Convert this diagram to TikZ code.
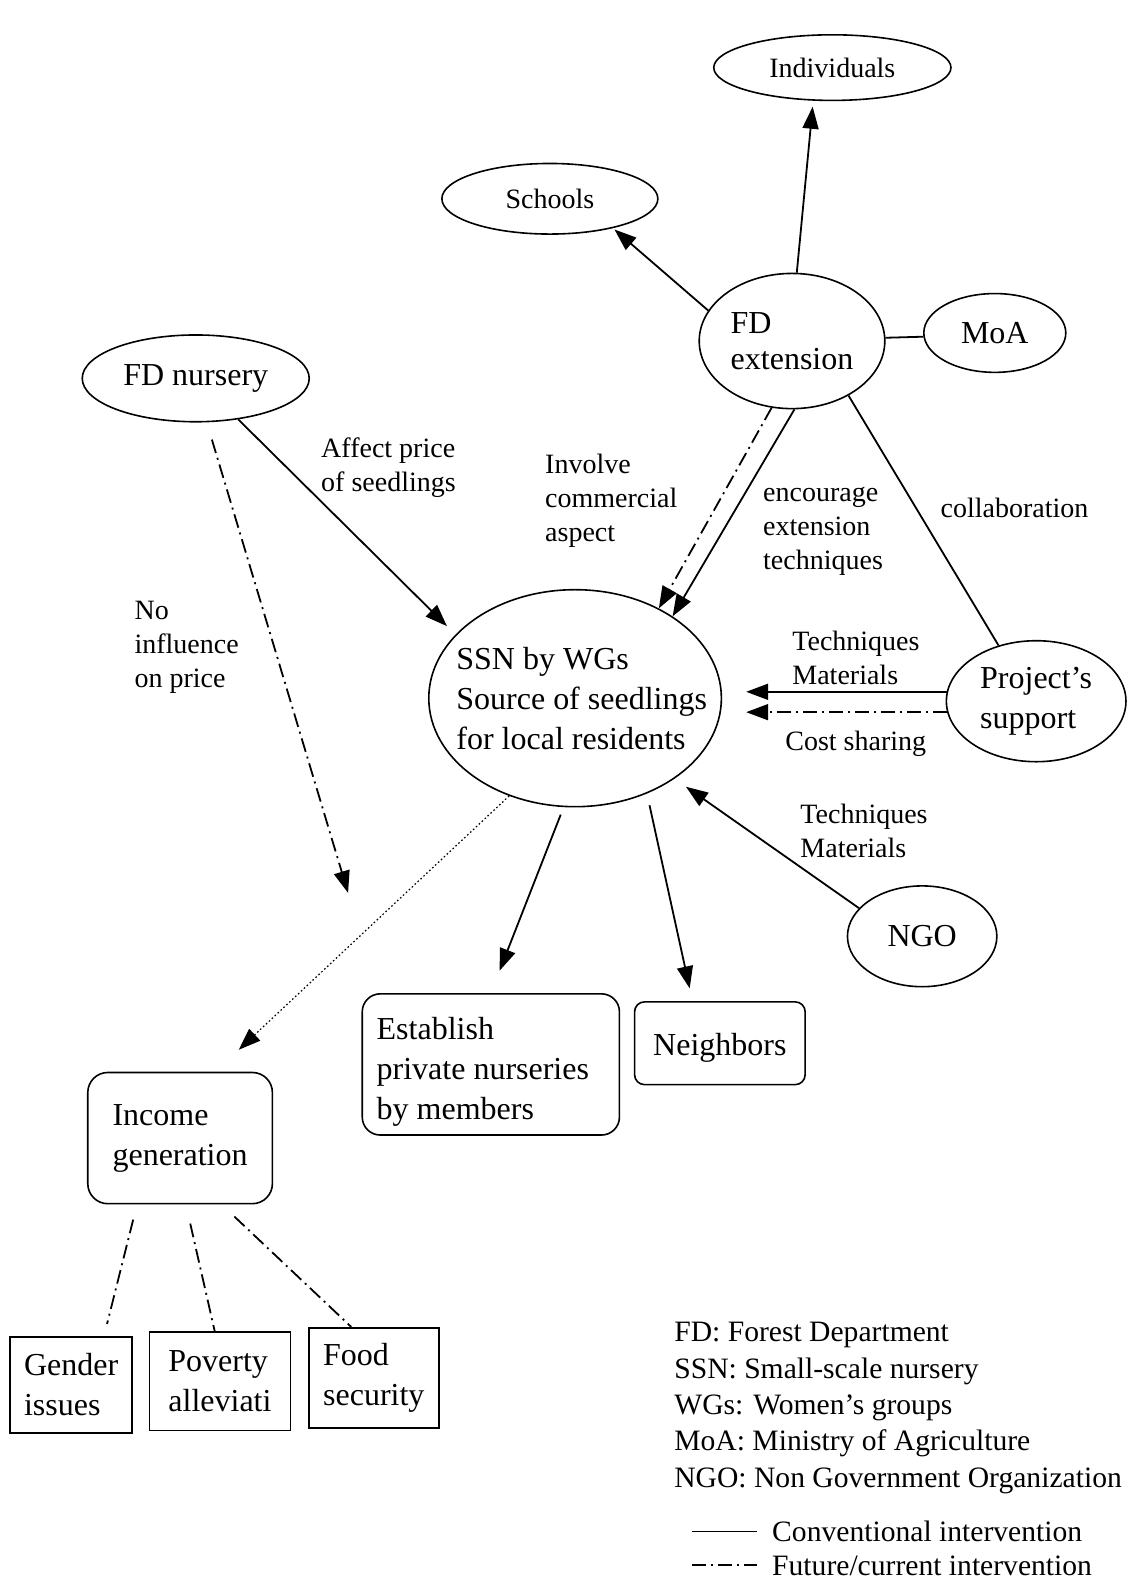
\documentclass[tikz,border=0pt]{standalone}
\usepackage{fontspec}
\setmainfont{Liberation Serif}
\usetikzlibrary{shapes.geometric,arrows.meta,calc}

\newcommand\bigtxt{\fontsize{16}{20}\selectfont}
\newcommand\smalltxt{\fontsize{14}{17}\selectfont}
\newcommand\legtxt{\fontsize{14.8}{18}\selectfont}

\begin{document}
\begin{tikzpicture}[x=0.50447pt,y=-0.50447pt,
  oval/.style={ellipse, draw, line width=0.8pt, inner sep=0pt, font=\bigtxt, align=left},
  rbox/.style={draw, line width=0.8pt, rounded corners=#1, inner sep=0pt, align=left, font=\bigtxt},
  sbox/.style={draw, line width=0.8pt, inner sep=0pt, align=left, font=\bigtxt},
  conv/.style={line width=0.9pt},
  futr/.style={line width=0.9pt, dash pattern=on 7pt off 2.5pt on 1pt off 2.5pt},
  weak/.style={line width=0.6pt, dash pattern=on 0.8pt off 1.2pt},
  tip/.style={-{Triangle[length=11pt,width=8pt]}},
  lbl/.style={anchor=north west, inner sep=0pt, align=left, font=\smalltxt},
  keytxt/.style={anchor=base west, inner sep=0pt, font=\legtxt},
]
\fill[white] (0,0) rectangle (1119,1568);
\useasboundingbox (0,0) rectangle (1119,1568);

% actors and targets
\node[oval, minimum width=118.6pt, minimum height=32.8pt, font=\smalltxt] (indiv) at (825,67) {Individuals};
\node[oval, minimum width=108pt, minimum height=35.3pt, font=\smalltxt] (school) at (545,197) {Schools};
\node[oval, minimum width=92.8pt, minimum height=67.6pt, font=\fontsize{16}{18}\selectfont] (fdext) at (785,338) {FD\\extension};
\node[oval, minimum width=71pt, minimum height=39.4pt] (moa) at (986,330) {MoA};
\node[oval, minimum width=113.5pt, minimum height=43.4pt] (fdnur) at (194,375) {FD nursery};
% the text fills the oval almost to its rim, so it is set as a centred label
\node[oval, minimum width=146.3pt, minimum height=108.5pt,
      label={[font=\bigtxt, align=left, inner sep=0pt, xshift=3.3pt]center:SSN by WGs\\Source of seedlings\\for local residents}] (ssn) at (570,692) {};
\node[oval, minimum width=89.8pt, minimum height=60.5pt] (proj) at (1027,695) {Project’s\\support};
\node[oval, minimum width=74.7pt, minimum height=50.4pt] (ngo) at (914,928) {NGO};

\node[rbox=9pt, minimum width=128.6pt, minimum height=70.6pt,
      label={[font=\bigtxt, align=left, inner sep=0pt, xshift=-4pt, yshift=-3.5pt]center:Establish\\private nurseries\\by members}] (estab) at (486.5,1055) {};
\node[rbox=5pt, minimum width=85.3pt, minimum height=41.4pt,
      label={[font=\bigtxt, inner sep=0pt, yshift=-2.5pt]center:Neighbors}] (neigh) at (713.5,1034) {};
\node[rbox=10pt, minimum width=92.3pt, minimum height=65.6pt] (income) at (178.5,1128) {Income\\generation};

\node[sbox, minimum width=61pt, minimum height=48pt] (gender) at (70.5,1372.5) {Gender\\issues};
\node[sbox, minimum width=70.6pt, minimum height=49.4pt] (poverty) at (218,1369) {Poverty\\alleviati};
\node[sbox, minimum width=65pt, minimum height=50pt] (food) at (370.5,1365.5) {Food\\security};

% connectors
\draw[conv, tip, shorten >=3pt] (fdext.86) -- (indiv.240);
\draw[conv, tip, shorten >=1pt] (fdext.160) -- (school.335);
\draw[conv] (fdext.2) -- (moa.183);
\draw[futr, tip] (fdext.253) -- (ssn.47);
\draw[conv, tip] (fdext.272) -- (ssn.40);
\draw[conv] (fdext.316) -- (proj.124);
\draw[conv, tip, shorten >=6pt] (fdnur.316) -- (ssn.152);
\coordinate (drift) at (345,885);
\draw[futr, tip, shorten <=9pt] (fdnur.284) -- (drift);
\draw[conv, tip, shorten >=12pt] (proj.174) -- (proj.174 -| ssn.east);
\draw[futr, tip, shorten >=12pt] (proj.187) -- (proj.187 -| ssn.east);
\draw[conv, tip, shorten >=7pt] (ngo.156) -- (ssn.321);
\draw[weak, tip, shorten >=16pt] (ssn.236) -- (income.62);
\draw[conv, tip, shorten <=4pt, shorten >=12pt] (ssn.264) -- (estab.north);
\draw[conv, tip, shorten <=6pt, shorten >=6.5pt] (ssn.307) -- (neigh.123);
\draw[futr, shorten <=7.8pt, shorten >=6.2pt] (income.237) -- (gender.56);
\draw[futr, shorten <=9.8pt] (income.275) -- (poverty.96);
\draw[futr, shorten <=8.8pt] (income.302) -- (food.114);

% connector labels
\node[lbl] (lAffect) at (318,429) {\strut Affect price\\of seedlings};
\node[lbl] (lInvolve) at (540,445) {\strut Involve\\commercial\\aspect};
\node[lbl] (lEnc) at (756,473) {\strut encourage\\extension\\techniques};
\node[lbl] (lCollab) at (932,489) {\strut collaboration};
\node[lbl] (lNo) at (133,590) {\strut No\\influence\\on price};
\node[lbl] (lTMa) at (785,621) {\strut Techniques\\Materials};
\node[lbl] (lCost) at (778,720) {\strut Cost sharing};
\node[lbl] (lTMb) at (793,792) {\strut Techniques\\Materials};

% abbreviations
\node[keytxt] (k1) at (668,1330) {FD: Forest Department};
\node[keytxt] (k2) at (668,1366) {SSN: Small-scale nursery};
\node[keytxt] (k3) at (668,1402) {WGs: Women’s groups};
\node[keytxt] (k4) at (668,1438) {MoA: Ministry of Agriculture};
\node[keytxt] (k5) at (668,1474) {NGO: Non Government Organization};

% line styles
\coordinate (s1a) at (686,1518);
\coordinate (s1b) at (750,1518);
\coordinate (s2a) at (686,1551);
\coordinate (s2b) at (750,1551);
\draw[conv] (s1a) -- (s1b);
\draw[futr] (s2a) -- (s2b);
\node[keytxt] (k6) at (765,1528) {Conventional intervention};
\node[keytxt] (k7) at (765,1562) {Future/current intervention};
\end{tikzpicture}
\end{document}
